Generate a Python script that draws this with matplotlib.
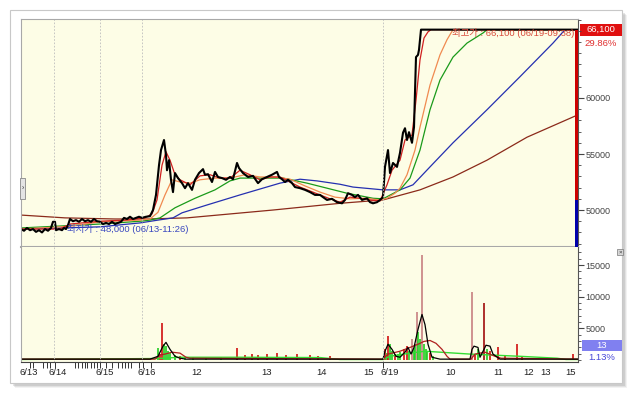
import matplotlib
matplotlib.use("Agg")
import matplotlib.pyplot as plt
from matplotlib.patches import Rectangle
from matplotlib.ticker import MultipleLocator, FixedLocator
from matplotlib.transforms import blended_transform_factory

# tick index of each bar (tick chart, so the x axis is just a running index)
price_idx = [0, 3, 6, 9, 12, 15, 18, 21, 24, 27, 30, 32, 34, 35, 38, 41, 43, 45, 47, 49,
             52, 55, 58, 61, 64, 67, 70, 73, 76, 79, 82, 85, 88, 91, 94, 97, 100, 103, 106, 109,
             112, 115, 118, 121, 125, 129, 132, 135, 138, 140, 143, 145, 146, 148, 150, 152, 154, 157, 161, 164,
             167, 171, 174, 178, 182, 184, 187, 191, 194, 197, 201, 205, 209, 212, 216, 218, 222, 227, 232, 237,
             241, 246, 251, 256, 258, 261, 264, 267, 271, 274, 279, 284, 289, 294, 299, 302, 306, 311, 316, 321,
             324, 327, 331, 334, 337, 341, 346, 349, 352, 356, 359, 362, 364, 367, 369, 372, 376, 379, 382, 384,
             386, 388, 391, 393, 395, 397, 398, 400, 557]
price = [48300, 48150, 48400, 48200, 48300, 48050, 48200, 48000, 48300, 48150, 48400, 48950, 48950, 48200, 48300, 48200, 48400, 48300, 48650, 49200,
         49000, 49100, 48950, 49200, 49000, 49100, 48950, 49200, 49000, 48950, 48750, 48850, 48750, 48950, 48750, 48850, 48950, 49300, 49200, 49400,
         49200, 49300, 49400, 49300, 49400, 49450, 50000, 51350, 54000, 55350, 56250, 54900, 53550, 54450, 52700, 51600, 53300, 52850, 52400, 51950,
         52400, 51800, 52700, 53300, 53650, 53150, 53200, 52500, 53400, 52950, 52850, 52700, 52950, 52750, 54200, 53750, 53300, 52950, 53050, 52400,
         52750, 52950, 53150, 53400, 52950, 52750, 52500, 52700, 52400, 52050, 51950, 51800, 51600, 51350, 51350, 51150, 50900, 51000, 50700, 50600,
         50900, 51500, 51350, 51150, 51350, 50900, 51050, 50700, 50600, 50700, 50900, 51150, 53850, 55350, 53300, 54200, 53850, 55100, 56900, 57300,
         56250, 56950, 56000, 57400, 63650, 63850, 64300, 66100, 66100]

# moving averages
ma5_idx = [0, 39, 49, 79, 104, 124, 131, 136, 141, 145, 149, 154, 159, 169, 179, 189, 199, 209, 219, 229,
           239, 249, 259, 269, 279, 289, 299, 309, 319, 329, 339, 349, 359, 366, 371, 379, 384, 391, 395, 399,
           403, 407, 410, 557]
ma5 = [48300, 48300, 48750, 49000, 49100, 49300, 49650, 50900, 54000, 55200, 54450, 53150, 52700, 52250, 53050, 53150, 52850, 52850, 53550, 53150,
       52700, 52950, 52950, 52500, 52050, 51700, 51350, 51000, 50700, 51150, 51050, 50900, 50800, 52250, 53550, 54450, 56250, 56700, 59800, 63400,
       65350, 65900, 66100, 66100]
ma20_idx = [0, 49, 79, 119, 129, 137, 144, 151, 159, 169, 179, 194, 209, 224, 239, 254, 269, 284, 299, 314,
            329, 344, 359, 366, 374, 379, 386, 394, 399, 409, 419, 426, 432, 557]
ma20 = [48300, 48550, 48950, 49100, 49200, 49800, 51350, 52700, 52500, 52400, 52700, 52850, 52850, 53150, 52950, 52950, 52750, 52150, 51600, 51150,
        51000, 51050, 50900, 51050, 51500, 51950, 53150, 55350, 57400, 61150, 63850, 65200, 66100, 66100]
ma60_idx = [0, 79, 119, 129, 139, 154, 174, 194, 209, 219, 262, 286, 306, 326, 352, 362, 379, 389, 399, 409,
            419, 432, 446, 462, 466, 557]
ma60 = [48400, 48750, 49000, 49100, 49300, 50200, 51050, 51800, 52600, 52850, 52850, 52400, 51950, 51500, 51050, 51000, 51800, 52850, 55350, 58950,
        61600, 63650, 64900, 65800, 66100, 66100]
ma120_idx = [0, 79, 119, 137, 152, 161, 186, 219, 259, 279, 296, 319, 332, 362, 379, 392, 409, 432, 466, 499,
             532, 544, 557]
ma120 = [48300, 48500, 48850, 49100, 49300, 49750, 50450, 51350, 52400, 52750, 52600, 52300, 52050, 51800, 51800, 52250, 53850, 56000, 58950, 61900,
         64900, 66100, 66100]
ma240_idx = [0, 44, 94, 127, 166, 209, 252, 319, 362, 399, 432, 466, 506, 557]
ma240 = [49550, 49300, 49200, 49200, 49300, 49650, 50000, 50600, 50900, 51800, 52950, 54450, 56500, 58500]

# volume bars: r = up tick, g = down tick, p = block trade, d = dark
vol_idx = [137, 139, 141, 143, 145, 147, 149, 154, 159, 164, 172, 185, 200, 216, 224, 231, 237, 246, 256, 265,
           276, 289, 297, 309, 364, 366, 367, 369, 371, 374, 377, 379, 383, 386, 388, 391, 393, 394, 396, 397,
           399, 401, 403, 405, 406, 409, 412, 451, 454, 457, 463, 466, 469, 477, 484, 496, 501, 552]
vol = [1900, 950, 5900, 2500, 2200, 1400, 1100, 800, 600, 450, 450, 300, 450, 1900, 800, 950, 800, 950, 1100, 800,
       950, 800, 600, 600, 1700, 1100, 3750, 2500, 1400, 950, 950, 1250, 1700, 2200, 1400, 3300, 1900, 2500, 7650, 4500,
       3300, 16550, 2500, 1700, 1400, 1100, 600, 10750, 950, 1700, 9050, 1700, 1400, 2000, 800, 2500, 600, 950]
vol_kind = ["g", "r", "r", "g", "g", "g", "g", "g", "r", "g", "g", "g", "g", "r", "r", "r", "r", "r", "r", "r",
            "r", "r", "r", "r", "r", "g", "r", "g", "g", "r", "g", "g", "r", "r", "g", "p", "g", "g", "p", "g",
            "g", "p", "g", "g", "g", "r", "g", "p", "r", "g", "d", "g", "r", "r", "r", "r", "r", "r"]

vma_s_idx = [0, 129, 137, 142, 145, 149, 154, 159, 165, 362, 364, 367, 371, 375, 379, 384, 387, 390, 393, 397,
             401, 404, 407, 411, 419, 449, 451, 453, 457, 459, 463, 465, 469, 472, 479, 557]
vma_s = [150, 150, 600, 2200, 2800, 1700, 600, 300, 150, 150, 1400, 2500, 1700, 600, 450, 1250, 2000, 950, 2000, 4850,
         7200, 5600, 2500, 450, 150, 150, 1700, 2200, 2000, 450, 1700, 2350, 2200, 950, 150, 150]
vma_m_idx = [0, 134, 139, 144, 151, 159, 165, 169, 362, 367, 379, 389, 397, 403, 409, 415, 421, 426, 429, 450,
             454, 464, 474, 480, 557]
vma_m = [150, 150, 800, 950, 1250, 1100, 450, 300, 150, 950, 1400, 2000, 2500, 2950, 3100, 2650, 1700, 600, 150, 150,
         950, 1250, 600, 300, 150]
vma_l_idx = [0, 137, 159, 219, 299, 319, 362, 369, 389, 404, 449, 499, 536, 545, 557]
vma_l = [100, 250, 450, 450, 400, 100, 100, 600, 1100, 1400, 950, 600, 300, 100, 100]

# x axis labels
label_idx = [8, 37, 84, 126, 176, 246, 301, 348, 369, 430, 477, 508, 525, 550]
label_text = ["6/13", "6/14", "6/15", "6/16", "12", "13", "14", "15", "6/19", "10", "11", "12", "13", "15"]
minor_idx = [9, 12, 22, 26, 29, 34, 54, 57, 61, 64, 66, 70, 73, 76, 79, 85, 91, 97, 101, 104,
             107, 110, 118, 122, 126, 130, 348, 362, 550]
day_lines = [33, 79, 121, 362]

high_price = 66100
low_price = 48000
prev_close = 50900

W, H = 643, 395
CREAM = "#fdfde6"
FRAME = "#a8a8a8"
VOL_COLORS = {"r": "#d01010", "g": "#22cc22", "p": "#c88080", "d": "#a00c0c"}


def rect(x0, y0, x1, y1):
    return [x0 / W, 1 - y1 / H, (x1 - x0) / W, (y1 - y0) / H]


def main():
    plt.rcParams["font.family"] = ["Liberation Sans", "Noto Sans CJK KR"]
    fig = plt.figure(figsize=(W / 100, H / 100), dpi=100)

    # card with a soft shadow
    bg = fig.add_axes([0, 0, 1, 1])
    bg.set_xlim(0, W)
    bg.set_ylim(H, 0)
    bg.axis("off")
    bg.set_zorder(-5)
    for off, a in [(5, 0.10), (4, 0.15), (3, 0.2)]:
        bg.add_patch(Rectangle((10 + off, 10 + off), 612, 373, fc="#808080", ec="none", alpha=a))
    bg.add_patch(Rectangle((10, 10), 612, 373, fc="white", ec="#c8c8c8", lw=0.8))

    ax1 = fig.add_axes(rect(21, 19, 578, 247))
    ax2 = fig.add_axes(rect(21, 247, 578, 362), sharex=ax1)

    # price panel
    ax1.set_facecolor(CREAM)
    ax1.plot(ma240_idx, ma240, color="#8b2a1a", lw=0.9)
    ax1.plot(ma120_idx, ma120, color="#2530b0", lw=0.9)
    ax1.plot(ma60_idx, ma60, color="#1a9a1a", lw=0.9)
    ax1.plot(ma20_idx, ma20, color="#f08a50", lw=0.9)
    ax1.plot(ma5_idx, ma5, color="#d02020", lw=0.9)
    ax1.plot(price_idx, price, color="black", lw=1.5)
    ax1.set_xlim(0, 557)
    ax1.set_ylim(46700, 67050)

    ax1.text(431, 65800, f"최고가 : {high_price:,} (06/19-09:38)", color="#d84a3a",
             fontsize=6.8, va="center")
    ax1.text(46, 48300, f"최저가 : {low_price:,} (06/13-11:26)", color="#3a48c0",
             fontsize=6.8, va="center")

    ax1.yaxis.tick_right()
    ax1.set_yticks([50000, 55000, 60000], labels=["50000", "55000", "60000"])
    ax1.yaxis.set_minor_locator(MultipleLocator(1000))
    ax1.tick_params(axis="y", which="major", length=4, width=0.8, labelsize=6.5, pad=1.5, colors="#444444")
    ax1.tick_params(axis="y", which="minor", length=2, width=0.6, colors="#444444")
    ax1.tick_params(axis="x", which="both", bottom=False, labelbottom=False)

    tr1 = blended_transform_factory(ax1.transAxes, ax1.transData)
    ax1.add_patch(Rectangle((0.9946, prev_close), 0.0054, high_price - prev_close, transform=tr1,
                            fc="#cc0000", ec="none", clip_on=False, zorder=5))
    ax1.add_patch(Rectangle((0.9946, 46700), 0.0054, prev_close - 46700, transform=tr1,
                            fc="#0000aa", ec="none", clip_on=False, zorder=5))
    ax1.add_patch(Rectangle((1.0036, high_price - 540), 0.0754, 1080, transform=tr1,
                            fc="#e01010", ec="none", clip_on=False))
    ax1.text(1.041, high_price, f"{high_price:,}", transform=tr1, ha="center", va="center",
             color="white", fontsize=6.8, clip_on=False)
    pct = (high_price / prev_close - 1) * 100
    ax1.text(1.041, 64900, f"{pct:.2f}%", transform=tr1, ha="center", va="center",
             color="#e03030", fontsize=6.8, clip_on=False)

    # volume panel
    ax2.set_facecolor(CREAM)
    ax2.vlines(vol_idx, 0, vol, colors=[VOL_COLORS[k] for k in vol_kind], lw=1.2)
    ax2.plot(vma_l_idx, vma_l, color="#33dd33", lw=1.0)
    ax2.plot(vma_m_idx, vma_m, color="#b02020", lw=0.9)
    ax2.plot(vma_s_idx, vma_s, color="black", lw=0.9)
    ax2.set_ylim(-300, 17850)

    ax2.yaxis.tick_right()
    ax2.set_yticks([5000, 10000, 15000], labels=["5000", "10000", "15000"])
    ax2.yaxis.set_minor_locator(MultipleLocator(1000))
    ax2.tick_params(axis="y", which="major", length=4, width=0.8, labelsize=6.5, pad=1.5, colors="#444444")
    ax2.tick_params(axis="y", which="minor", length=2, width=0.6, colors="#444444")

    ax2.set_xticks(label_idx, labels=label_text)
    ax2.xaxis.set_minor_locator(FixedLocator(minor_idx))
    ax2.tick_params(axis="x", which="major", length=0, labelsize=6.8, pad=4, colors="#222222")
    ax2.tick_params(axis="x", which="minor", length=4, width=0.7, color="#333333")

    tr2 = blended_transform_factory(ax2.transAxes, ax2.transData)
    ax2.add_patch(Rectangle((1.0072, 1420), 0.0718, 1740, transform=tr2,
                            fc="#8080f0", ec="none", clip_on=False))
    ax2.text(1.043, 2290, "13", transform=tr2, ha="center", va="center",
             color="white", fontsize=6.8, clip_on=False)
    ax2.text(1.043, 470, "1.13%", transform=tr2, ha="center", va="center",
             color="#4848d8", fontsize=6.8, clip_on=False)

    for ax in (ax1, ax2):
        for x in day_lines:
            ax.axvline(x, color="#bdbdbd", lw=0.6, ls=(0, (2, 2)))
        ax.spines["left"].set_color(FRAME)
        ax.spines["right"].set_color("#555555")
        ax.spines["top"].set_color(FRAME)
    ax1.spines["bottom"].set_color(FRAME)
    ax1.spines["bottom"].set_linewidth(1.5)
    ax2.spines["top"].set_visible(False)
    ax2.spines["bottom"].set_color("#444444")

    # little widgets on the frame
    fg = fig.add_axes([0, 0, 1, 1])
    fg.set_xlim(0, W)
    fg.set_ylim(H, 0)
    fg.axis("off")
    fg.patch.set_alpha(0)
    fg.add_patch(Rectangle((20, 178), 5, 21, fc="#e4e4e4", ec="#888888", lw=0.6))
    fg.text(22.5, 188.5, "›", fontsize=5, ha="center", va="center", color="#333333")
    fg.add_patch(Rectangle((617, 249), 6, 6, fc="#d8d8d8", ec="#777777", lw=0.5))
    fg.text(620, 252, "×", fontsize=4.5, ha="center", va="center", color="#333333")

    fig.savefig("out.png", dpi=100)


if __name__ == "__main__":
    main()
